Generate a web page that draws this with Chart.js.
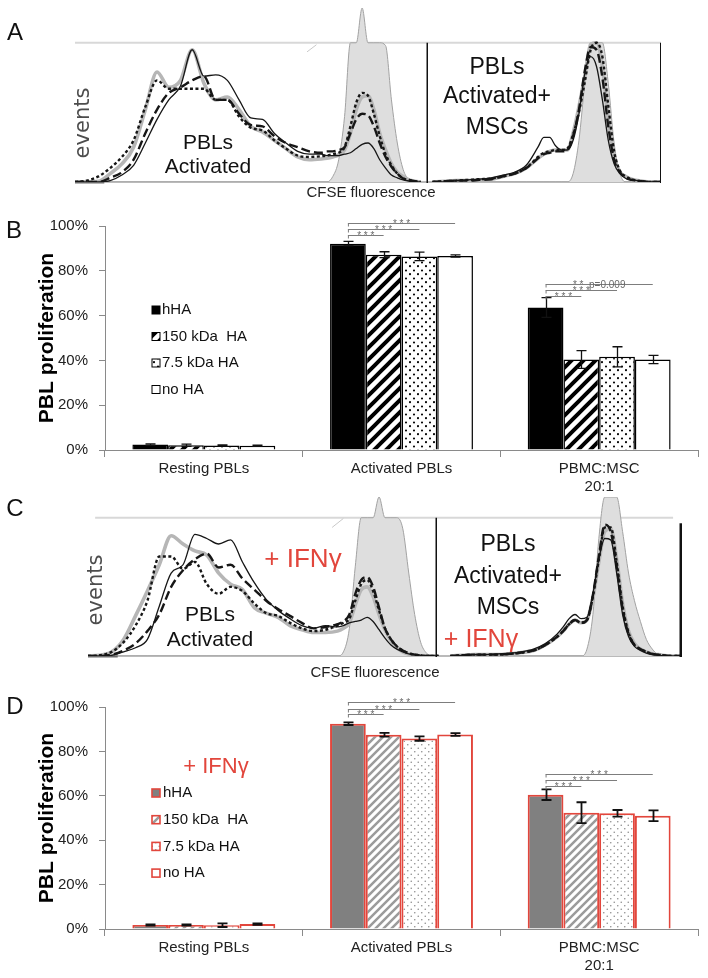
<!DOCTYPE html>
<html><head><meta charset="utf-8">
<script src="https://cdn.jsdelivr.net/npm/chart.js@4.4.0/dist/chart.umd.min.js"></script>
<style>
html,body{margin:0;padding:0;background:#fff;}
#wrap{position:relative;width:708px;height:978px;overflow:hidden;background:#fff;font-family:'Liberation Sans',Arial,sans-serif;}
canvas{position:absolute;left:0;}
.lt{position:absolute;font-size:24px;color:#111;line-height:1;transform:translate(-50%,-50%);}
</style></head><body>
<div id="wrap">
<canvas id="cA" width="708" height="200" style="top:0"></canvas>
<canvas id="cB" width="708" height="300" style="top:200px"></canvas>
<canvas id="cC" width="708" height="190" style="top:490px"></canvas>
<canvas id="cD" width="708" height="298" style="top:680px"></canvas>
<div class="lt" style="left:15px;top:32px">A</div>
<div class="lt" style="left:14px;top:230px">B</div>
<div class="lt" style="left:15px;top:508px">C</div>
<div class="lt" style="left:15px;top:706px">D</div>
</div>
<script>
// ---------------- DATA ----------------
// bar charts (B, D)
const categories = ['Resting PBLs', 'Activated PBLs', ['PBMC:MSC', '20:1']];
const seriesNames = ['hHA', '150 kDa  HA', '7.5 kDa HA', 'no HA'];
const yTicks = [0, 20, 40, 60, 80, 100];

const bHHA  = [2.4, 92.1, 63.6];
const b150  = [2.1, 87.2, 40.4];
const b75   = [2.0, 86.4, 41.6];
const bNoHA = [1.9, 86.6, 40.4];
const bErrHHA  = [0.3, 1.0, 4.4];
const bErr150  = [0.5, 1.3, 4.0];
const bErr75   = [0.3, 1.9, 4.5];
const bErrNoHA = [0.3, 0.5, 1.8];

const dHHA  = [1.8, 92.5, 60.5];
const d150  = [1.8, 87.5, 52.4];
const d75   = [1.7, 85.8, 52.1];
const dNoHA = [2.2, 87.6, 51.0];
const dErrHHA  = [0.3, 0.6, 2.4];
const dErr150  = [0.3, 0.8, 4.7];
const dErr75   = [0.8, 1.0, 1.5];
const dErrNoHA = [0.3, 0.6, 2.4];

// significance brackets: [category index, compared series index, bracket level (%), label]
const sigB = [[1,1,95.9,'* * *'],[1,2,98.5,'* * *'],[1,3,101.2,'* * *'],
              [2,1,68.7,'* * *'],[2,2,71.5,'* * *'],[2,3,74.1,'* *  p=0.009']];
const sigD = [[1,1,96.7,'* * *'],[1,2,99.3,'* * *'],[1,3,102.1,'* * *'],
              [2,1,64.5,'* * *'],[2,2,67.1,'* * *'],[2,3,69.8,'* * *']];

// CFSE histograms (A, C): channel bins (left sub-panel 0-60, right sub-panel 60-100), event counts (% of frame height)
const cfseBins = [0,2,4,6,8,10,12,14,16,18,20,22,24,26,28,30,32,34,36,38,40,42,
  43,44,45,46,47,48,49,50,51,52,53,54,55,56,57,58,59,60,
  61,63,65,67,69,71,73,75,77,79,
  80,81,82,83,84,85,86,87,88,89,90,91,92,93,94,95,96,98,100];

const aSolid = [0,0,0,1,5,12,28,45,59,69,95,76,77,73,59,46,45,35,28,22,20,20,
  19,19,19,20,21,24,27,28,24,16,10,5,3,1.5,0.7,0,0,null,
  0,0,1,1.5,2,3,5,7,12,25,
  32,32,26,23,23,30,49,78,90,83,59,30,13,6,2.5,1.5,1,0,0];
const aGrey = [0,0,0.5,6,13,25,52,79,68,73,95,71,59,61,52,40,36,30,24,18,16,16.5,
  17,18,19.5,23,35,52,61,62,52,35,23,13,7,4,1.5,0.5,0,null,
  0,0.5,1,1,1.5,2,4,6,10,17,
  20,22,23,23,23,35,54,76,99,100,83,45,18,7,4,2,1,0,0];
const aLong = [0,0,0,3,7,16,35,52,64,68,73,76,59,59,49,41,40,33,28,25,22,21,
  22,22,23,25,35,45,49,48,40,28,18,11,6,2.5,1.5,0.5,0,null,
  0,0.5,1,1,1.5,2,4,6,10,17,
  20,21,22,22,23,33,52,80,97,95,75,40,16,7,3,1.5,1,0,0];
const aShort = [0,1,4,10,18,30,54,73,67,67,67,67,59,59,47,39,37,30,24,19,18,18.5,
  19,20,21,25,40,57,64,62,49,33,20,12,6,2.5,1.5,0.5,0,null,
  0,0.5,1,1.5,2,2.5,4,6,10,18,
  21,22,23,23,24,34,50,72,95,100,90,55,22,8,4,2,1,0,0];
const aFill = [0,0,0,0,0,0,0,0,0,0,0,0,0,0,0,0,0,0,0,0,0,0,
  0,4,16,47,100,100,125,100,100,100,98,59,28,9,1.5,0,0,null,
  0,0,0,0,0,0,0,0,0,0,
  0,0,0,0,0,6,30,71,100,100,100,71,28,6,0,0,0,0,0];

const cSolid = [0,0,0.5,3,6,12,36,60,66,88,85,81,84,68,53,41,33,27,22,20,22,21,
  22,24,25,26,28,25,19,13,8,5,3,1.5,1,0.5,0,0,0,null,
  0,0.5,1,1,1.5,2,3,5,9,16,
  21,27,30,27,28,45,70,85,84,60,30,14,7,4,2,1,0.5,0,0];
const cGrey = [0,0.5,3,12,29,47,66,87,81,76,73,60,52,48,35,31,28,22,19,17,17,18,
  20,24,37,48,50,43,30,19,11,6,3,1.5,0.5,0,0,0,0,null,
  0,0.5,1,1,1,1.5,2.5,4,8,14,
  18,23,26,24,26,42,68,90,92,70,38,18,9,5,3,1.5,1,0,0];
const cLong = [0,0,1,4,9,18,30,50,62,70,74,64,66,56,48,40,34,29,24,20,21,23,
  25,30,45,55,57,50,35,20,12,7,4,2,1,0.5,0,0,0,null,
  0,0.5,1,1,1,1.5,2.5,4,8,14,
  18,23,26,24,26,44,72,95,90,65,34,16,8,5,3,1.5,1,0,0];
const cShort = [0,0.5,3,10,22,40,72,72,63,68,52,45,50,47,38,31,29,24,20,18,19,22,
  24,27,40,52,55,47,33,20,12,7,4,2,1,0.5,0,0,0,null,
  0,0.5,1,1,1,1.5,2.5,4,8,14,
  18,23,26,24,26,43,70,93,93,68,36,17,8,5,3,1.5,1,0,0];
const cFill = [0,0,0,0,0,0,0,0,0,0,0,0,0,0,0,0,0,0,0,0,0,0,
  3,20,65,100,100,100,115,100,100,100,92,60,30,10,2,0,0,null,
  0,0,0,0,0,0,0,0,0,0,
  0,0,0,0,5,30,85,115,115,115,90,60,40,25,12,5,1,0,0];

// ---------------- RENDERING ----------------
const FONT = "'Liberation Sans', Arial, sans-serif";
Chart.defaults.font.family = FONT;
const RED = '#e2463c';

function seg(ctx, x0, y0, x1, y1) { ctx.beginPath(); ctx.moveTo(x0, y0); ctx.lineTo(x1, y1); ctx.stroke(); }

function stripes(ctx, color, bg, p, lw) {
  const c = document.createElement('canvas'); c.width = p; c.height = p;
  const g = c.getContext('2d');
  g.fillStyle = bg; g.fillRect(0, 0, p, p);
  g.strokeStyle = color; g.lineWidth = lw; g.lineCap = 'square';
  g.beginPath();
  g.moveTo(-p, p); g.lineTo(p, -p);
  g.moveTo(0, p); g.lineTo(p, 0);
  g.moveTo(0, 2 * p); g.lineTo(2 * p, 0);
  g.stroke();
  return ctx.createPattern(c, 'repeat');
}
function dots(ctx, color, bg, w, h, r) {
  const c = document.createElement('canvas'); c.width = w; c.height = h;
  const g = c.getContext('2d');
  g.fillStyle = bg; g.fillRect(0, 0, w, h);
  g.fillStyle = color;
  [[w / 4, h / 4], [3 * w / 4, 3 * h / 4]].forEach(([x, y]) => { g.beginPath(); g.arc(x, y, r, 0, Math.PI * 2); g.fill(); });
  return ctx.createPattern(c, 'repeat');
}

// ---- histogram frame + labels ----
const histFrame = {
  id: 'histFrame',
  beforeDatasetsDraw(chart, args, o) {
    const {ctx} = chart, x = chart.scales.x, y = chart.scales.y;
    ctx.save();
    ctx.strokeStyle = '#d8d8d8'; ctx.lineWidth = 2;
    seg(ctx, x.getPixelForValue(o.topFrom), y.getPixelForValue(100), x.getPixelForValue(o.topTo), y.getPixelForValue(100));
    ctx.strokeStyle = '#a3a3a3'; ctx.lineWidth = 1.5;
    seg(ctx, x.getPixelForValue(0), y.getPixelForValue(0), x.getPixelForValue(100), y.getPixelForValue(0));
    ctx.strokeStyle = '#6a6a6a'; ctx.lineWidth = 3;
    seg(ctx, x.getPixelForValue(0), y.getPixelForValue(0), x.getPixelForValue(o.darkTo), y.getPixelForValue(0));
    ctx.strokeStyle = '#c9c9c9'; ctx.lineWidth = 1;
    const s = o.slash;
    seg(ctx, x.getPixelForValue(s[0]), y.getPixelForValue(s[1]), x.getPixelForValue(s[2]), y.getPixelForValue(s[3]));
    ctx.restore();
  },
  afterDatasetsDraw(chart, args, o) {
    const {ctx} = chart, x = chart.scales.x, y = chart.scales.y;
    ctx.save();
    ctx.strokeStyle = '#111'; ctx.lineWidth = 1.5;
    const xd = Math.round(x.getPixelForValue(o.divider)) + 0.25;
    seg(ctx, xd, y.getPixelForValue(100), xd, y.getPixelForValue(0) + 1);
    ctx.lineWidth = o.borderW;
    const xb = x.getPixelForValue(100) - o.borderW / 2;
    seg(ctx, xb, y.getPixelForValue(o.borderFrom), xb, y.getPixelForValue(0) + 1);
    ctx.restore();
  },
  afterDraw(chart, args, o) {
    const {ctx} = chart;
    ctx.save();
    ctx.textAlign = 'center'; ctx.textBaseline = 'middle';
    o.texts.forEach(t => {
      ctx.save();
      ctx.font = t[3]; ctx.fillStyle = t[4];
      ctx.translate(t[1], t[2]);
      if (t[5]) ctx.rotate(t[5] * Math.PI / 180);
      ctx.fillText(t[0], 0, 0);
      ctx.restore();
    });
    ctx.restore();
  }
};

function makeHist(id, s, frame, pad, yMax) {
  const ctx = document.getElementById(id).getContext('2d');
  const pts = arr => cfseBins.map((x, i) => ({x, y: arr[i]}));
  const base = {pointRadius: 0, cubicInterpolationMode: 'monotone', spanGaps: false, fill: false, borderCapStyle: 'butt'};
  return new Chart(ctx, {
    type: 'line',
    data: {datasets: [
      {...base, label: 'hHA', data: pts(s.solid), borderColor: '#161616', borderWidth: 1.3},
      {...base, label: '150 kDa HA', data: pts(s.long), borderColor: '#161616', borderWidth: 2.4, borderDash: [9, 4]},
      {...base, label: '7.5 kDa HA', data: pts(s.short), borderColor: '#161616', borderWidth: 2.4, borderDash: [3, 2.5]},
      {...base, label: 'no HA', data: pts(s.grey), borderColor: '#b6b6b6', borderWidth: 3.6},
      {...base, label: 'resting', data: pts(s.fill), borderColor: '#a2a2a2', borderWidth: 1, backgroundColor: '#dedede', fill: 'origin'}
    ]},
    options: {
      responsive: false, animation: false, events: [],
      layout: {padding: pad},
      scales: {
        x: {type: 'linear', display: false, min: 0, max: 100},
        y: {display: false, min: 0, max: yMax}
      },
      plugins: {legend: {display: false}, tooltip: {enabled: false}, histFrame: frame}
    },
    plugins: [histFrame]
  });
}

makeHist('cA', {solid: aSolid, grey: aGrey, long: aLong, short: aShort, fill: aFill}, {
  topFrom: 0, topTo: 100, darkTo: 5, divider: 60, borderW: 1, borderFrom: 100,
  slash: [39.6, 93.5, 41.2, 98.6],
  texts: [
    ['events', 84, 123, "21px 'DejaVu Sans', sans-serif", '#4d4d4d', -90],
    ['PBLs', 208, 143, '21px ' + FONT, '#111'],
    ['Activated', 208, 167, '21px ' + FONT, '#111'],
    ['PBLs', 497, 68, '23px ' + FONT, '#111'],
    ['Activated+', 497, 97, '23px ' + FONT, '#111'],
    ['MSCs', 497, 128, '23px ' + FONT, '#111'],
    ['CFSE fluorescence', 371, 193, '15px ' + FONT, '#222']
  ]
}, {left: 75, right: 47, top: 8, bottom: 18}, 125);

makeHist('cC', {solid: cSolid, grey: cGrey, long: cLong, short: cShort, fill: cFill}, {
  topFrom: 1.2, topTo: 98.5, darkTo: 5, divider: 58.6, borderW: 2.5, borderFrom: 96,
  slash: [41.1, 93, 43, 99.5],
  texts: [
    ['events', 97, 100, "21px 'DejaVu Sans', sans-serif", '#4d4d4d', -90],
    ['PBLs', 210, 125, '21px ' + FONT, '#111'],
    ['Activated', 210, 150, '21px ' + FONT, '#111'],
    ['+ IFN\u03b3', 303, 70, '26px ' + FONT, RED],
    ['PBLs', 508, 55, '23px ' + FONT, '#111'],
    ['Activated+', 508, 87, '23px ' + FONT, '#111'],
    ['MSCs', 508, 118, '23px ' + FONT, '#111'],
    ['+ IFN\u03b3', 481, 150, '25px ' + FONT, RED],
    ['CFSE fluorescence', 375, 183, '15px ' + FONT, '#222']
  ]
}, {left: 88, right: 26, top: 7, bottom: 24}, 115);

// ---- bar extras: error bars, significance brackets, in-plot legend ----
const barExtras = {
  id: 'barExtras',
  afterDatasetsDraw(chart, args, o) {
    const {ctx} = chart, y = chart.scales.y;
    ctx.save();
    chart.data.datasets.forEach((ds, i) => {
      chart.getDatasetMeta(i).data.forEach((bar, j) => {
        const v = ds.data[j], e = ds.err[j];
        const x = Math.round(bar.x) + 0.5, t = y.getPixelForValue(v + e), b = y.getPixelForValue(v - e);
        ctx.strokeStyle = '#111'; ctx.lineWidth = o.errW;
        ctx.beginPath();
        ctx.moveTo(x, t); ctx.lineTo(x, b);
        ctx.moveTo(x - o.cap, t); ctx.lineTo(x + o.cap, t);
        ctx.moveTo(x - o.cap, b); ctx.lineTo(x + o.cap, b);
        ctx.stroke();
      });
    });
    o.sig.forEach(([g, k, h, label]) => {
      const x0 = chart.getDatasetMeta(0).data[g].x, x1 = chart.getDatasetMeta(k).data[g].x;
      const yy = Math.round(y.getPixelForValue(h)) + 0.5;
      ctx.strokeStyle = '#7d7d7d'; ctx.lineWidth = 1;
      seg(ctx, x0, yy, x1, yy);
      seg(ctx, x0 + 0.5, yy, x0 + 0.5, yy + 3);
      ctx.fillStyle = '#6a6a6a'; ctx.font = '10px ' + FONT; ctx.textAlign = 'center'; ctx.textBaseline = 'alphabetic';
      ctx.fillText(label, (x0 + x1) / 2, yy + 3);
    });
    const L = o.legend;
    if (L.title) {
      ctx.fillStyle = L.titleColor; ctx.font = L.titleFont; ctx.textAlign = 'center'; ctx.textBaseline = 'middle';
      ctx.fillText(L.title, L.titleX, L.titleY);
    }
    chart.data.datasets.forEach((ds, i) => {
      const cy = L.y + i * L.dy;
      ctx.fillStyle = ds.backgroundColor;
      ctx.fillRect(L.x, cy - L.box / 2, L.box, L.box);
      ctx.strokeStyle = ds.borderColor; ctx.lineWidth = L.bw;
      ctx.strokeRect(L.x, cy - L.box / 2, L.box, L.box);
      ctx.fillStyle = '#111'; ctx.font = '15px ' + FONT; ctx.textAlign = 'left'; ctx.textBaseline = 'middle';
      ctx.fillText(ds.label, L.x + L.box + L.gap, cy);
    });
    ctx.restore();
  }
};

function makeBars(id, vals, errs, fills, borderColor, borderW, extras, topPad, xH) {
  const ctx = document.getElementById(id).getContext('2d');
  const f = fills(ctx);
  return new Chart(ctx, {
    type: 'bar',
    data: {
      labels: categories,
      datasets: seriesNames.map((n, i) => ({
        label: n, data: vals[i], err: errs[i], backgroundColor: f[i],
        borderColor: borderColor, borderWidth: borderW,
        categoryPercentage: 0.723, barPercentage: 1.0
      }))
    },
    options: {
      responsive: false, animation: false, events: [],
      layout: {padding: {top: topPad, right: 10, left: 0, bottom: 0}},
      scales: {
        x: {
          grid: {offset: true, drawOnChartArea: false, tickLength: 7, color: '#8a8a8a'},
          border: {color: '#8a8a8a', width: 1},
          ticks: {font: {size: 15}, color: '#222', padding: 3, maxRotation: 0, autoSkip: false},
          afterFit: a => { a.height = xH; }
        },
        y: {
          min: 0, max: 100,
          afterBuildTicks: a => { a.ticks = yTicks.map(v => ({value: v})); },
          grid: {drawOnChartArea: false, tickLength: 6, color: '#8a8a8a'},
          border: {color: '#8a8a8a', width: 1},
          ticks: {font: {size: 15}, color: '#222', padding: 11, callback: v => v + '%'},
          title: {display: true, text: 'PBL proliferation', font: {size: 21, weight: 'bold'}, color: '#000', padding: {top: 35, bottom: 0}},
          afterFit: a => { a.width = 105; }
        }
      },
      plugins: {legend: {display: false}, tooltip: {enabled: false}, barExtras: extras}
    },
    plugins: [barExtras]
  });
}

makeBars('cB', [bHHA, b150, b75, bNoHA], [bErrHHA, bErr150, bErr75, bErrNoHA],
  ctx => ['#000', stripes(ctx, '#000', '#fff', 12, 4), dots(ctx, '#000', '#fff', 8, 8.6, 1.05), '#fff'],
  '#000', 1.5,
  {errW: 1.3, cap: 5, sig: sigB,
   legend: {x: 152, y: 110, dy: 26.5, box: 8, bw: 1, gap: 2}}, 26, 50);

makeBars('cD', [dHHA, d150, d75, dNoHA], [dErrHHA, dErr150, dErr75, dErrNoHA],
  ctx => ['#808080', stripes(ctx, '#9b9b9b', '#fff', 8, 2.5), dots(ctx, '#8e8e8e', '#fff', 7, 7, 0.8), '#fff'],
  RED, 2,
  {errW: 1.8, cap: 5, sig: sigD,
   legend: {x: 152, y: 113, dy: 26.7, box: 8, bw: 1.6, gap: 3,
            title: '+ IFN\u03b3', titleX: 216, titleY: 87, titleFont: '22px ' + FONT, titleColor: RED}}, 27, 49);
</script>
</body></html>
